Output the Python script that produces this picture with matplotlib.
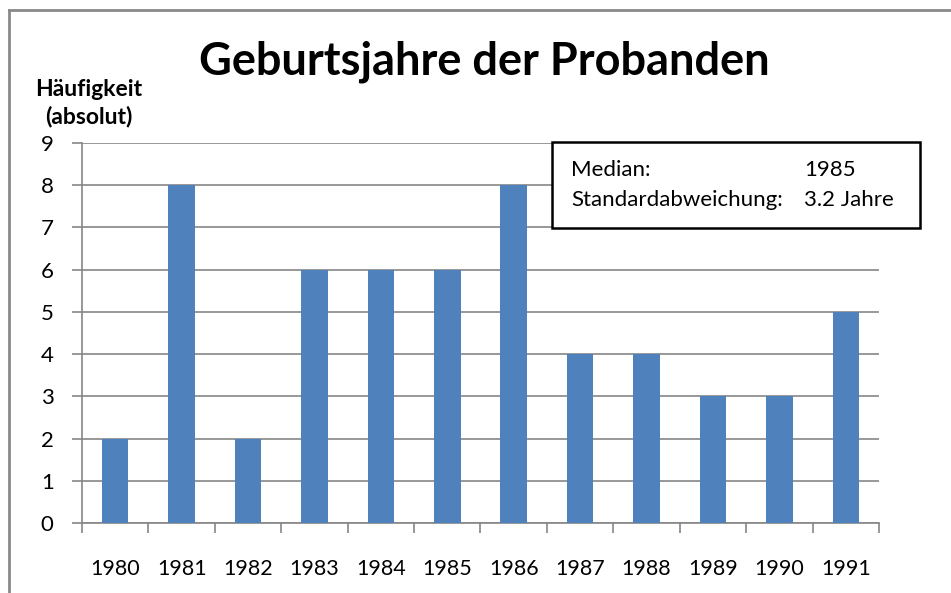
import matplotlib
matplotlib.use("Agg")
import matplotlib.pyplot as plt
from matplotlib.lines import Line2D
from matplotlib.patches import Rectangle

# chart data
years = ["1980", "1981", "1982", "1983", "1984", "1985",
         "1986", "1987", "1988", "1989", "1990", "1991"]
counts = [2, 8, 2, 6, 6, 6, 8, 4, 4, 3, 3, 5]
y_ticks = [0, 1, 2, 3, 4, 5, 6, 7, 8, 9]
stats_labels = ["Median:", "Standardabweichung:"]
stats_values = ["1985", "3.2 Jahre"]

plt.rcParams['font.family'] = ['Lato', 'DejaVu Sans']

W, H = 951, 593
fig = plt.figure(figsize=(W / 100, H / 100), dpi=100)
ax = fig.add_axes([82 / W, 1 - 523 / H, (879 - 82) / W, (523 - 143) / H])

grid_col = "#868686"
bar_col = "#4F81BD"

x = list(range(len(years)))
ax.bar(x, counts, width=0.4, color=bar_col, zorder=3)

ax.set_xlim(-0.5, len(years) - 0.5)
ax.set_ylim(0, 9)
ax.set_yticks(y_ticks)
ax.set_yticklabels([str(t) for t in y_ticks], fontsize=16)
ax.yaxis.grid(True, color=grid_col, linewidth=1.2, zorder=0)

# category labels centered, tick marks between categories
ax.set_xticks(x)
ax.set_xticklabels(years, fontsize=15.5)
ax.tick_params(axis='x', length=0, pad=26)
ax.set_xticks([i - 0.5 for i in range(len(years) + 1)], minor=True)
ax.tick_params(axis='x', which='minor', length=7, width=1.2, color=grid_col)
ax.tick_params(axis='y', length=7, width=1.2, color=grid_col, pad=18)
for lbl in ax.get_yticklabels():
    lbl.set_horizontalalignment('center')

for side in ['top', 'right']:
    ax.spines[side].set_visible(False)
for side in ['left', 'bottom']:
    ax.spines[side].set_color(grid_col)
    ax.spines[side].set_linewidth(1.2)

# title and axis label
fig.text(484 / W, 1 - 62 / H, "Geburtsjahre der Probanden", ha='center',
         va='center', fontsize=32.5, fontweight='bold')
fig.text(89 / W, 1 - 103 / H, "Häufigkeit\n(absolut)", ha='center',
         va='center', fontsize=16.5, fontweight='bold', linespacing=1.35)

# stats box
fig.add_artist(Rectangle((552 / W, 1 - 228 / H), (920 - 552) / W, (228 - 142) / H,
                         transform=fig.transFigure, facecolor='white',
                         edgecolor='black', linewidth=1.8, zorder=5))
for i, (lab, val) in enumerate(zip(stats_labels, stats_values)):
    yy = 1 - (170 + 30 * i) / H
    fig.text(571 / W, yy, lab, ha='left', va='center', fontsize=16, zorder=6)
    fig.text(804 / W, yy, val, ha='left', va='center', fontsize=16, zorder=6)

# outer chart border (partly cut off)
fig.add_artist(Line2D([9 / W, 9 / W], [0, 1 - 10 / H], transform=fig.transFigure,
                      color="#8A8A8A", linewidth=2))
fig.add_artist(Line2D([9 / W, 1], [1 - 10 / H, 1 - 10 / H], transform=fig.transFigure,
                      color="#8A8A8A", linewidth=2))

fig.savefig("out.png", dpi=100)
